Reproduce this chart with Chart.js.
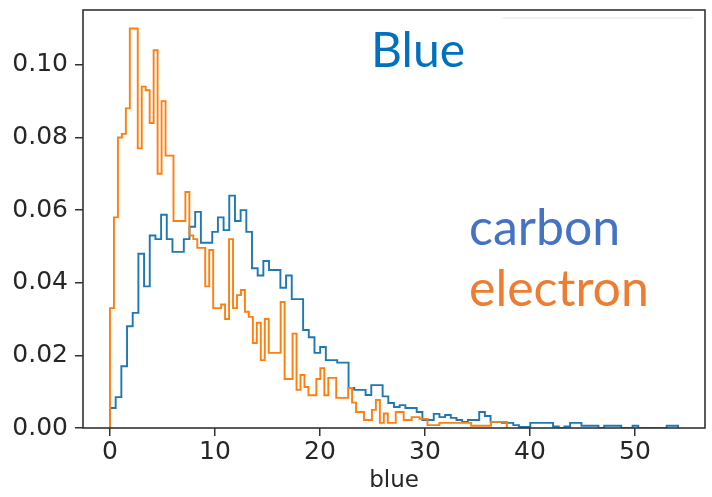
<!DOCTYPE html>
<html>
<head>
<meta charset="utf-8">
<script src="https://cdn.jsdelivr.net/npm/chart.js@4.4.1/dist/chart.umd.min.js"></script>
<style>
  body { margin: 0; background: #fff; }
  #wrap { position: relative; width: 712px; height: 497px; }
  .note { position: absolute; font-family: Lato, sans-serif; line-height: 1; white-space: nowrap; }
</style>
</head>
<body>
<div id="wrap">
  <canvas id="histo" width="712" height="497"></canvas>
  <span class="note" style="left:371px;top:25px;font-size:48px;color:#0070c0">Blue</span>
  <span class="note" style="left:469px;top:201px;font-size:50px;color:#4472c4">carbon</span>
  <span class="note" style="left:469px;top:262px;font-size:50px;color:#ed7d31">electron</span>
</div>
<script>
// axis ticks
var xTicks = [0, 10, 20, 30, 40, 50];
var yTicks = [0, 0.02, 0.04, 0.06, 0.08, 0.10];

// carbon histogram (density), 100 bins from 0
var carbonStart = 0;
var carbonBinWidth = 0.541;
var carbonValues = [
  0.0055, 0.0085, 0.017, 0.028, 0.0317, 0.048, 0.039, 0.053, 0.052, 0.0587,
  0.052, 0.0485, 0.0485, 0.052, 0.0554, 0.0595, 0.051, 0.051, 0.054, 0.058,
  0.0545, 0.064, 0.057, 0.060, 0.054, 0.044, 0.042, 0.046, 0.0435, 0.0435,
  0.0386, 0.042, 0.0355, 0.0355, 0.027, 0.025, 0.0207, 0.0223, 0.0187, 0.0187,
  0.018, 0.018, 0.011, 0.0105, 0.0105, 0.0091, 0.0118, 0.0118, 0.0087, 0.0069,
  0.0058, 0.0063, 0.0055, 0.0055, 0.0044, 0.0022, 0.0022, 0.0039, 0.0030, 0.0036,
  0.0028, 0.0022, 0.0017, 0.0022, 0.0022, 0.0044, 0.0033, 0.0017, 0.0017, 0.0014,
  0.0014, 0.0008, 0.0003, 0.0003, 0.0014, 0.0014, 0.0014, 0.0014, 0.0004, 0,
  0.0004, 0.0014, 0.0014, 0.0006, 0.0006, 0.0006, 0, 0.0006, 0.0006, 0.0006,
  0, 0, 0.0006, 0, 0, 0, 0, 0, 0.0006, 0.0006
];

// electron histogram (density), 100 bins from 0
var electronStart = 0;
var electronBinWidth = 0.378;
var electronValues = [
  0.033, 0.058, 0.080, 0.081, 0.088, 0.110, 0.110, 0.077, 0.094, 0.093,
  0.084, 0.104, 0.070, 0.090, 0.075, 0.075, 0.057, 0.057, 0.057, 0.065,
  0.053, 0.052, 0.0496, 0.0496, 0.039, 0.049, 0.033, 0.033, 0.034, 0.030,
  0.052, 0.033, 0.0366, 0.038, 0.032, 0.0306, 0.0234, 0.029, 0.0187, 0.030,
  0.0207, 0.0207, 0.0207, 0.0347, 0.0135, 0.0135, 0.026, 0.0105, 0.0146, 0.0113,
  0.009, 0.009, 0.0135, 0.0165, 0.009, 0.0138, 0.0138, 0.0083, 0.0083, 0.0083,
  0.011, 0.007, 0.0044, 0.0044, 0.0022, 0.0022, 0.005, 0.0077, 0.0014, 0.004,
  0.0014, 0.0014, 0.0044, 0.0044, 0.0022, 0.0022, 0.003, 0.003, 0.0025, 0.0025,
  0.0008, 0.0008, 0.0008, 0.0014, 0.0014, 0.0014, 0.0014, 0.0014, 0.0014, 0.0014,
  0.0014, 0.0006, 0.0006, 0.0006, 0.0006, 0.0006, 0.0017, 0.0017, 0.0017, 0.0017
];

// turn bins into an open step outline like histtype='step'
function stepPoints(start, width, values) {
  var pts = [{x: start, y: 0}];
  values.forEach(function(v, i) {
    pts.push({x: start + i * width, y: v});
  });
  pts.push({x: start + values.length * width, y: 0});
  return pts;
}

// box round the plot + the faint leftover legend edge
var frame = {
  id: 'frame',
  afterDraw: function(chart) {
    var a = chart.chartArea, ctx = chart.ctx;
    ctx.save();
    ctx.strokeStyle = '#ececec';
    ctx.lineWidth = 1.5;
    ctx.beginPath();
    ctx.moveTo(a.left + 420, a.top + 8);
    ctx.lineTo(a.right - 12, a.top + 8);
    ctx.stroke();
    ctx.strokeStyle = '#333';
    ctx.lineWidth = 1.6;
    ctx.strokeRect(a.left, a.top, a.right - a.left, a.bottom - a.top);
    ctx.restore();
  }
};

var tickFont = {family: '"DejaVu Sans", sans-serif', size: 25};

new Chart(document.getElementById('histo'), {
  type: 'line',
  data: {
    datasets: [{
      label: 'electron',
      data: stepPoints(electronStart, electronBinWidth, electronValues),
      borderColor: '#ff7f0e',
      borderWidth: 1.9,
      stepped: true,
      pointRadius: 0,
      fill: false
    }, {
      label: 'carbon',
      data: stepPoints(carbonStart, carbonBinWidth, carbonValues),
      borderColor: '#1f77b4',
      borderWidth: 1.9,
      stepped: true,
      pointRadius: 0,
      fill: false
    }]
  },
  options: {
    responsive: false,
    animation: false,
    devicePixelRatio: 1,
    layout: {padding: {top: 10, right: 7, left: 0, bottom: 0}},
    plugins: {legend: {display: false}, tooltip: {enabled: false}},
    scales: {
      x: {
        type: 'linear',
        min: -2.57,
        max: 56.67,
        afterBuildTicks: function(scale) {
          scale.ticks = xTicks.map(function(v) { return {value: v}; });
        },
        afterFit: function(scale) {
          scale.height = 69;
          scale.paddingLeft = 0;
          scale.paddingRight = 0;
        },
        grid: {drawOnChartArea: false, drawTicks: true, tickLength: 8, tickColor: '#333', lineWidth: 1.5},
        border: {display: false},
        ticks: {color: '#262626', font: tickFont, padding: 1, maxRotation: 0},
        title: {display: true, text: 'blue', color: '#262626', font: {family: '"DejaVu Sans", sans-serif', size: 23}, padding: {top: 0, bottom: 2}}
      },
      y: {
        min: 0,
        max: 0.1151,
        afterBuildTicks: function(scale) {
          scale.ticks = yTicks.map(function(v) { return {value: v}; });
        },
        afterFit: function(scale) {
          scale.width = 83;
          scale.paddingTop = 0;
          scale.paddingBottom = 0;
        },
        grid: {drawOnChartArea: false, drawTicks: true, tickLength: 8, tickColor: '#333', lineWidth: 1.5},
        border: {display: false},
        ticks: {
          color: '#262626',
          font: tickFont,
          padding: 7,
          callback: function(v) { return v.toFixed(2); }
        }
      }
    }
  },
  plugins: [frame]
});
</script>
</body>
</html>
